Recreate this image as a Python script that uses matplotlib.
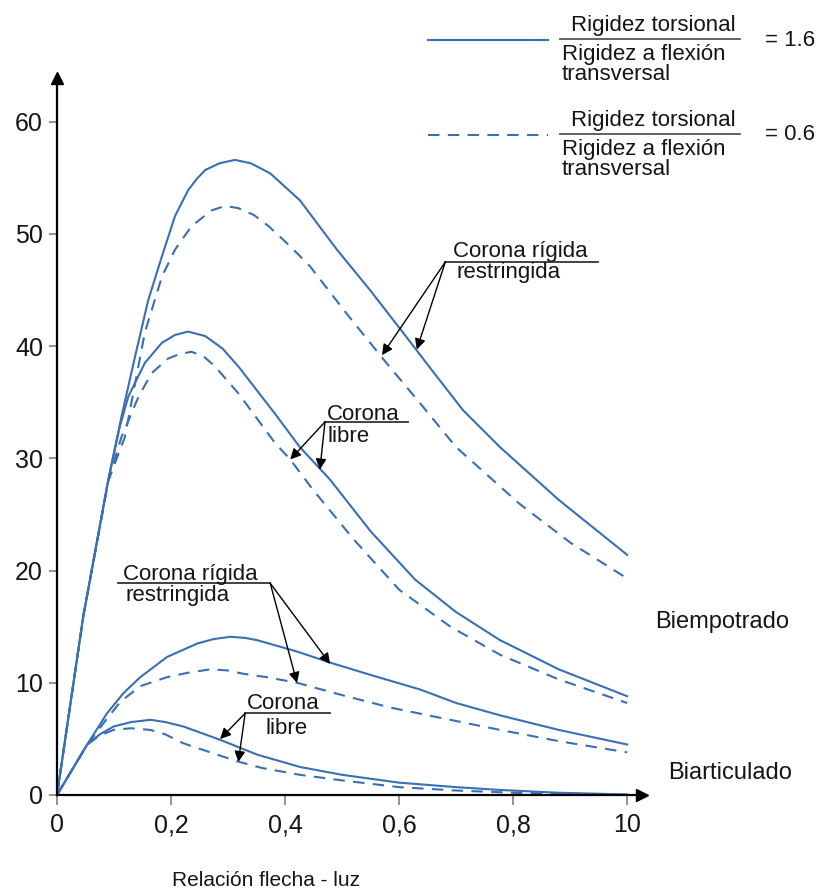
import matplotlib.pyplot as plt
from matplotlib.lines import Line2D

# ===========================
# Data
# ===========================

x_ticks = [0, 0.2, 0.4, 0.6, 0.8, 1.0]
x_tick_labels = ["0", "0,2", "0,4", "0,6", "0,8", "10"]
y_ticks = [0, 10, 20, 30, 40, 50, 60]

# Biempotrado - corona rigida restringida
bi_rest_x_16 = [0, 0.046, 0.09, 0.113, 0.137, 0.16, 0.184, 0.207, 0.23, 0.245, 0.26,
                0.285, 0.312, 0.34, 0.374, 0.426, 0.491, 0.549, 0.607, 0.666, 0.712,
                0.777, 0.88, 1.0]
bi_rest_y_16 = [0, 15.9, 28.1, 33.7, 39.1, 44.1, 48.0, 51.6, 53.9, 54.9, 55.7,
                56.3, 56.6, 56.3, 55.4, 53.0, 48.6, 45.0, 41.2, 37.3, 34.3,
                31.0, 26.3, 21.4]
bi_rest_x_06 = [0, 0.046, 0.09, 0.119, 0.154, 0.184, 0.207, 0.236, 0.271, 0.295, 0.318,
                0.345, 0.371, 0.409, 0.444, 0.508, 0.573, 0.637, 0.70, 0.81, 0.9, 1.0]
bi_rest_y_06 = [0, 15.9, 28.0, 31.9, 41.2, 46.2, 48.6, 50.7, 52.1, 52.5, 52.3,
                51.7, 50.7, 48.9, 47.1, 42.9, 38.8, 34.9, 31.0, 26.0, 22.5, 19.3]

# Biempotrado - corona libre
bi_libre_x_16 = [0, 0.046, 0.09, 0.11, 0.125, 0.154, 0.184, 0.207, 0.23, 0.26, 0.29,
                 0.318, 0.382, 0.426, 0.479, 0.55, 0.628, 0.70, 0.777, 0.88, 1.0]
bi_libre_y_16 = [0, 15.9, 28.1, 32.8, 35.5, 38.5, 40.3, 41.0, 41.3, 40.9, 39.8,
                 38.2, 34.0, 31.0, 28.1, 23.5, 19.2, 16.3, 13.8, 11.2, 8.8]
bi_libre_x_06 = [0, 0.046, 0.09, 0.113, 0.143, 0.166, 0.195, 0.215, 0.236, 0.257, 0.277,
                 0.318, 0.382, 0.409, 0.449, 0.52, 0.6, 0.69, 0.777, 0.88, 1.0]
bi_libre_y_06 = [0, 15.9, 28.0, 31.9, 35.5, 37.6, 38.9, 39.3, 39.5, 39.1, 38.2,
                 35.8, 31.4, 29.9, 27.2, 22.8, 18.3, 15.0, 12.5, 10.3, 8.2]

# Biarticulado - corona rigida restringida
ba_rest_x_16 = [0, 0.053, 0.088, 0.117, 0.146, 0.193, 0.246, 0.275, 0.304, 0.33, 0.351,
                0.42, 0.479, 0.55, 0.637, 0.70, 0.777, 0.88, 1.0]
ba_rest_y_16 = [0, 4.5, 7.3, 9.1, 10.5, 12.3, 13.5, 13.9, 14.1, 14.0, 13.8,
                12.8, 11.8, 10.7, 9.4, 8.2, 7.1, 5.8, 4.5]
ba_rest_x_06 = [0, 0.053, 0.08, 0.111, 0.146, 0.193, 0.23, 0.269, 0.3, 0.327, 0.368,
                0.421, 0.5, 0.584, 0.68, 0.777, 0.88, 1.0]
ba_rest_y_06 = [0, 4.5, 6.3, 8.3, 9.7, 10.5, 10.9, 11.2, 11.1, 10.8, 10.5,
                10.0, 8.9, 7.8, 6.8, 5.8, 4.8, 3.8]

# Biarticulado - corona libre
ba_libre_x_16 = [0, 0.053, 0.075, 0.099, 0.13, 0.164, 0.19, 0.222, 0.287, 0.351, 0.426,
                 0.5, 0.6, 0.7, 0.777, 0.88, 1.0]
ba_libre_y_16 = [0, 4.5, 5.4, 6.1, 6.5, 6.7, 6.5, 6.1, 4.9, 3.6, 2.5,
                 1.8, 1.1, 0.7, 0.45, 0.2, 0.05]
ba_libre_x_06 = [0, 0.053, 0.075, 0.099, 0.13, 0.164, 0.19, 0.222, 0.316, 0.36, 0.426,
                 0.5, 0.6, 0.7, 0.8, 1.0]
ba_libre_y_06 = [0, 4.5, 5.3, 5.8, 5.95, 5.8, 5.4, 4.6, 3.0, 2.4, 1.8,
                 1.3, 0.7, 0.4, 0.2, 0.0]

# ===========================
# Style
# ===========================

BLUE = "#3a6fb3"
TXT = "#151515"
FONT = ["Liberation Sans", "DejaVu Sans"]
LW = 1.5
DASH = (0, (5.5, 4))

W, H = 821, 893
fig = plt.figure(figsize=(W / 100, H / 100), dpi=100)
ax = fig.add_axes([57 / W, 1 - 795 / H, (642 - 57) / W, (795 - 78) / H])


def fx(px):
    return px / W


def fy(py):
    return 1 - py / H


# ===========================
# Curves
# ===========================

ax.plot(bi_rest_x_16, bi_rest_y_16, color=BLUE, lw=LW)
ax.plot(bi_rest_x_06, bi_rest_y_06, color=BLUE, lw=LW, ls=DASH)
ax.plot(bi_libre_x_16, bi_libre_y_16, color=BLUE, lw=LW)
ax.plot(bi_libre_x_06, bi_libre_y_06, color=BLUE, lw=LW, ls=DASH)
ax.plot(ba_rest_x_16, ba_rest_y_16, color=BLUE, lw=LW)
ax.plot(ba_rest_x_06, ba_rest_y_06, color=BLUE, lw=LW, ls=DASH)
ax.plot(ba_libre_x_16, ba_libre_y_16, color=BLUE, lw=LW)
ax.plot(ba_libre_x_06, ba_libre_y_06, color=BLUE, lw=LW, ls=DASH)

# ===========================
# Axes with arrows
# ===========================

ax.set_xlim(0, 1.026)
ax.set_ylim(0, 63.9)
for s in ["top", "right"]:
    ax.spines[s].set_visible(False)
for s in ["left", "bottom"]:
    ax.spines[s].set_linewidth(1.6)
    ax.spines[s].set_color("black")
ax.plot(1, 0, ">k", ms=9, transform=ax.get_yaxis_transform(), clip_on=False)
ax.plot(0, 1, "^k", ms=9, transform=ax.get_xaxis_transform(), clip_on=False)

ax.set_xticks(x_ticks)
ax.set_xticklabels(x_tick_labels, family=FONT, fontsize=18, color=TXT)
ax.set_yticks(y_ticks)
ax.set_yticklabels([str(v) for v in y_ticks], family=FONT, fontsize=18, color=TXT)
ax.tick_params(axis="x", length=7, width=1.3, color="#888888", pad=6)
ax.tick_params(axis="y", length=6, width=1.3, color="#888888", pad=4)

fig.text(fx(266), fy(880), "Relación flecha - luz", family=FONT, fontsize=15,
         color=TXT, ha="center", va="center")
fig.text(fx(655), fy(622), "Biempotrado", family=FONT, fontsize=17,
         color=TXT, ha="left", va="center")
fig.text(fx(668), fy(773), "Biarticulado", family=FONT, fontsize=17,
         color=TXT, ha="left", va="center")

# ===========================
# Annotations
# ===========================


def label(top, bottom, xtop, ytop, xbot, ybot, bar, tips):
    x0, x1, yb = bar
    ax.text(xtop, ytop, top, family=FONT, fontsize=16, color=TXT, va="baseline")
    ax.text(xbot, ybot, bottom, family=FONT, fontsize=16, color=TXT, va="baseline")
    ax.plot([x0, x1], [yb, yb], color="#333333", lw=1.3)
    origin = (x1, yb) if tips[0][0] > x1 else (x0, yb)
    for t in tips:
        ax.annotate("", xy=t, xytext=origin,
                    arrowprops=dict(arrowstyle="-|>", color="black", lw=1.0,
                                    mutation_scale=16, shrinkA=0, shrinkB=0))


label("Corona rígida", "restringida", 0.695, 47.95, 0.700, 46.05,
      (0.681, 0.949, 47.5), [(0.570, 39.2), (0.631, 39.7)])
label("Corona", "libre", 0.474, 33.43, 0.475, 31.47,
      (0.470, 0.616, 33.25), [(0.409, 29.9), (0.461, 29.0)])
label("Corona rígida", "restringida", 0.116, 19.17, 0.121, 17.3,
      (0.107, 0.374, 18.87), [(0.479, 11.68), (0.421, 9.98)])
label("Corona", "libre", 0.333, 7.67, 0.365, 5.44,
      (0.330, 0.479, 7.28), [(0.286, 4.99), (0.318, 2.94)])

# ===========================
# Legend (drawn by hand)
# ===========================

for dy, ls, val in [(0, "-", "= 1.6"), (95, DASH, "= 0.6")]:
    fig.add_artist(Line2D([fx(428), fx(548)], [fy(40 + dy), fy(40 + dy)],
                          color=BLUE, lw=LW, ls=ls))
    fig.add_artist(Line2D([fx(560), fx(740)], [fy(39 + dy), fy(39 + dy)],
                          color="#555555", lw=1.3))
    fig.text(fx(653), fy(31 + dy), "Rigidez torsional", family=FONT, fontsize=16,
             color=TXT, ha="center", va="baseline")
    fig.text(fx(562), fy(60 + dy), "Rigidez a flexión", family=FONT, fontsize=16,
             color=TXT, ha="left", va="baseline")
    fig.text(fx(562), fy(80 + dy), "transversal", family=FONT, fontsize=16,
             color=TXT, ha="left", va="baseline")
    fig.text(fx(765), fy(40 + dy), val, family=FONT, fontsize=16,
             color=TXT, ha="left", va="center")

fig.savefig("out.png", dpi=100)
